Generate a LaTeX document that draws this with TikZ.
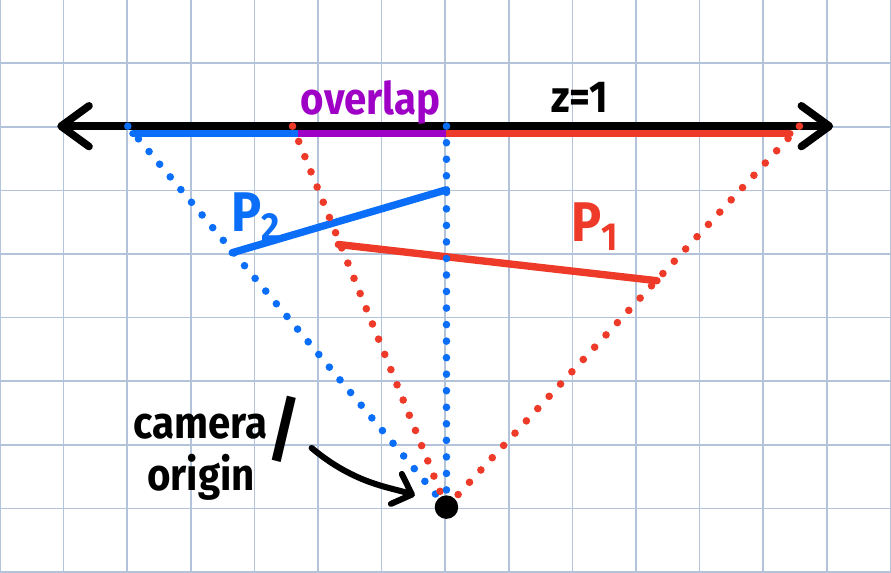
\documentclass[tikz,border=0pt]{standalone}
\usepackage{fontspec}
\newfontfamily\handfont[FakeStretch=0.9]{Fira Sans}
\usetikzlibrary{arrows.meta,positioning,calc}
\definecolor{gridcol}{HTML}{B3C3DA}
\definecolor{p1col}{HTML}{EE3A28}
\definecolor{p2col}{HTML}{0A6EF8}
\definecolor{overlapcol}{HTML}{9E00C6}

\begin{document}
\begin{tikzpicture}[line cap=round, line join=round,
  hand/.style={font=\handfont\bfseries\fontsize{20}{22}\selectfont},
  bighand/.style={font=\handfont\bfseries\fontsize{25}{28}\selectfont},
  raydots/.style={line width=3.4pt, dash pattern=on 0pt off #1}]
\useasboundingbox (0,0) rectangle (14.01,8.994);
\clip (0,0) rectangle (14.01,8.994);
\draw[gridcol, line width=0.7pt] (0,0) grid (14.01,8.994);

% plane z = 1 and camera
\coordinate (o) at (7.02,1.02);
\coordinate (blueL) at (2.01,7.01);
\coordinate (redL) at (4.6,7.01);
\coordinate (blueR) at (7.02,7.01);
\coordinate (redR) at (12.57,7.01);
\draw[line width=3.4pt, {Straight Barb[round,length=4.4mm,width=6.4mm]}-{Straight Barb[round,length=4.4mm,width=6.4mm]}] (0.9,7.01) -- (13.1,7.01);

% projections on the plane
\draw[p1col, line width=3.3pt] (7.02,6.89) -- (12.42,6.89);
\draw[p2col, line width=3.3pt] (2.09,6.89) -- (4.69,6.89);
\draw[overlapcol, line width=3.3pt, line cap=butt] (4.69,6.89) -- (7.02,6.89);

% the two segments
\draw[p2col, line width=3.3pt] (3.65,5.02) -- (7.02,6.01);
\draw[p1col, line width=3.3pt] (5.32,5.15) -- (10.33,4.58);

% rays from the origin
\foreach \col/\tip/\gap in {p2col/blueL/0.26, p1col/redL/0.258, p2col/blueR/0.26, p1col/redR/0.2632}
  \draw[\col, raydots=\gap cm] (\tip) -- (o);
\node[circle, fill=black, inner sep=0pt, minimum size=0.37cm] (orig) at (o) {};

% labels
\node[hand, overlapcol, anchor=base] (overlapl) at (5.83,7.19) {overlap};
\node[hand, anchor=base] (zl) at (9.12,7.22) {z=1};
\node[bighand, p2col, anchor=base] (p2l) at (4.03,5.35) {P\textsubscript{2}};
\node[bighand, p1col, anchor=base] (p1l) at (9.36,5.19) {P\textsubscript{1}};
\node[hand, align=left, anchor=base west, inner sep=0pt] (caml) at (2.09,1.28)
  {camera\smash{\raisebox{-7pt}{\fontsize{32}{32}\selectfont/}}\\[1.3pt]\hspace*{0.22cm}origin};

\coordinate (arrs) at (4.9,1.95);
\draw[line width=2.7pt, -{Straight Barb[round,length=2.6mm,width=5mm]}, shorten >=0.53cm] (arrs) to[out=-40,in=160] (orig.center);
\end{tikzpicture}
\end{document}
